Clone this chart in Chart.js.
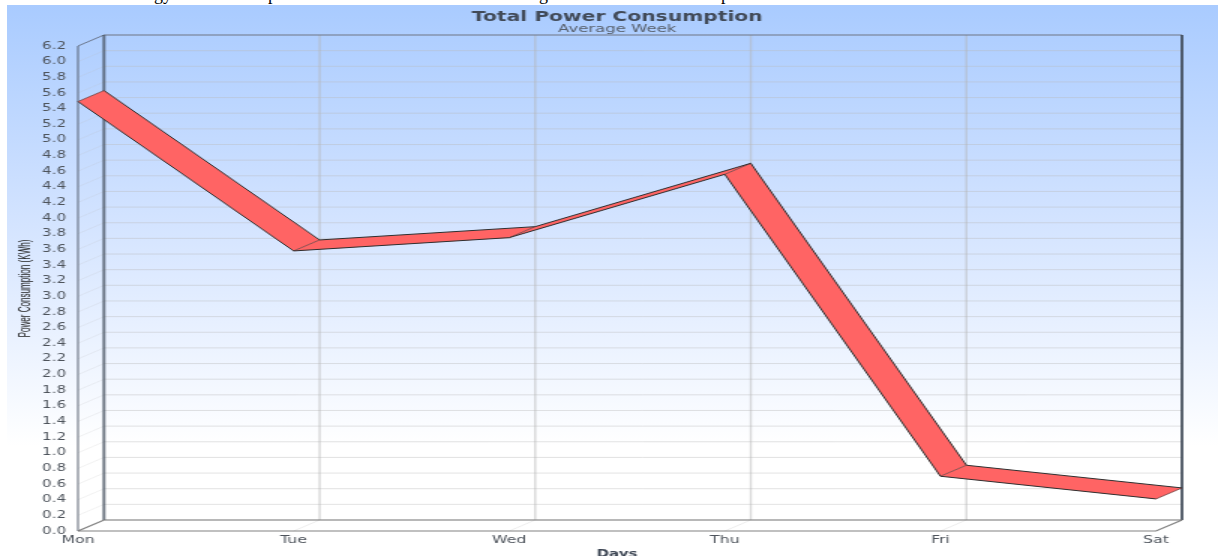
<!DOCTYPE html>
<html>
<head>
<meta charset="utf-8">
<title>Total Power Consumption</title>
<script src="https://cdn.jsdelivr.net/npm/chart.js@4"></script>
<style>
    html, body { margin: 0; padding: 0; background: #fff; overflow: hidden; }
    #page { position: relative; width: 1218px; height: 556px; overflow: hidden; }
    #backdrop { position: absolute; left: 7px; top: 5px; right: 0; height: 441px; background: linear-gradient(#a9cbff, #d4e4ff 50%, #fff); }
    #clipped span { position: absolute; top: -16px; font: 18px "Liberation Serif", serif; color: #000; }
    #clipped { position: absolute; left: 0; top: 0; width: 1218px; height: 5px; overflow: hidden; }
    /* the reference is a soft picture stretched sideways, so the canvas is too */
    #chart { position: absolute; left: 0; top: 0; transform-origin: 0 0; transform: scale(1.5, 1); filter: blur(0.4px); }
</style>
</head>
<body>
<div id="page">
    <div id="backdrop"></div>
    <div id="clipped">
        <span style="left:154px">gy</span>
        <span style="left:268px">p</span>
        <span style="left:539px">g</span>
        <span style="left:721px">p</span>
    </div>
    <canvas id="chart" width="812" height="556"></canvas>
</div>
<script>
const days = ['Mon', 'Tue', 'Wed', 'Thu', 'Fri', 'Sat'];
const powerValues = [5.49, 3.58, 3.75, 4.56, 0.70, 0.41];
const yTickStep = 0.2;
const yTop = 6.2;

// Depth of the fake 3D box, in axis units
const DEPTH_X = 0.1205;
const DEPTH_Y = 0.1406;
const LAST_DAY = days.length - 1;

const TICK_COLOR = '#4e545c';

const points = powerValues.map((v, i) => ({ x: i, y: v }));

function line(ctx, coords, color, width) {
    ctx.beginPath();
    coords.forEach(([x, y], i) => (i ? ctx.lineTo(x, y) : ctx.moveTo(x, y)));
    ctx.strokeStyle = color;
    ctx.lineWidth = width;
    ctx.stroke();
}

/**
 * Back wall, side wall, floor and the ribbon between the two lines
 */
const box3d = {
    id: 'box3d',
    beforeDatasetsDraw(chart) {
        const { ctx, scales } = chart;
        const fx = v => scales.xFront.getPixelForValue(v);
        const fy = v => scales.yFront.getPixelForValue(v);
        const bx = v => scales.xBack.getPixelForValue(v);
        const by = v => scales.yBack.getPixelForValue(v);

        ctx.save();

        scales.yFront.ticks.forEach(t => {
            line(ctx, [[fx(0), fy(t.value)], [bx(0), by(t.value)]], 'rgba(190,190,190,0.3)', 0.7);
            line(ctx, [[bx(0), by(t.value)], [bx(LAST_DAY), by(t.value)]], 'rgba(185,185,185,0.42)', 1);
        });

        scales.xFront.ticks.forEach(t => {
            if (t.value === 0 || t.value === LAST_DAY) return;
            line(ctx, [[fx(t.value), fy(0)], [bx(t.value), by(0)]], 'rgba(190,190,190,0.4)', 0.7);
            line(ctx, [[bx(t.value), by(0)], [bx(t.value), by(yTop)]], 'rgba(180,180,180,0.5)', 1.4);
        });

        // box frame
        line(ctx, [[fx(0), fy(yTop)], [bx(0), by(yTop)], [bx(LAST_DAY), by(yTop)]], 'rgba(90,100,120,0.8)', 1);
        line(ctx, [[fx(0), fy(0)], [fx(0), fy(yTop)]], 'rgba(80,90,105,0.7)', 1.3);
        line(ctx, [[bx(0), by(0)], [bx(0), by(yTop)]], 'rgba(70,80,95,0.75)', 2);
        line(ctx, [[bx(LAST_DAY), by(0)], [bx(LAST_DAY), by(yTop)]], 'rgba(60,70,85,0.85)', 2);
        line(ctx, [[fx(0), fy(0)], [bx(0), by(0)], [bx(LAST_DAY), by(0)]], 'rgba(115,115,115,0.9)', 1.2);
        line(ctx, [[fx(0), fy(0)], [fx(LAST_DAY), fy(0)], [bx(LAST_DAY), by(0)]], 'rgba(115,115,115,0.9)', 1.2);

        // ribbon
        const front = chart.getDatasetMeta(0).data;
        const back = chart.getDatasetMeta(1).data;
        for (let i = 0; i < LAST_DAY; i++) {
            ctx.beginPath();
            ctx.moveTo(front[i].x, front[i].y);
            ctx.lineTo(front[i + 1].x, front[i + 1].y);
            ctx.lineTo(back[i + 1].x, back[i + 1].y);
            ctx.lineTo(back[i].x, back[i].y);
            ctx.closePath();
            ctx.fillStyle = '#ff6464';
            ctx.fill();
        }
        front.forEach((p, i) => line(ctx, [[p.x, p.y], [back[i].x, back[i].y]], '#5a3a3a', 0.7));

        ctx.restore();
    },
    afterDraw(chart) {
        const { ctx, scales } = chart;
        const midX = (scales.xFront.getPixelForValue(0) + scales.xFront.getPixelForValue(LAST_DAY)) / 2;
        const midY = (scales.yFront.getPixelForValue(0) + scales.yFront.getPixelForValue(yTop)) / 2;

        ctx.save();
        ctx.textAlign = 'center';
        ctx.textBaseline = 'alphabetic';

        ctx.font = 'bold 10px "DejaVu Sans"';
        ctx.fillStyle = '#3d4654';
        ctx.fillText('Days', midX, 557);

        ctx.translate(17, midY);
        ctx.rotate(-Math.PI / 2);
        ctx.textBaseline = 'middle';
        ctx.font = '10px "Liberation Sans Narrow", "Liberation Sans"';
        ctx.fillStyle = '#222';
        ctx.fillText('Power Consumption (KWh)', 0, 0, 98);
        ctx.restore();
    }
};

new Chart(document.getElementById('chart'), {
    type: 'line',
    data: {
        datasets: [
            { label: 'Front', data: points, xAxisID: 'xFront', yAxisID: 'yFront' },
            { label: 'Back', data: points, xAxisID: 'xBack', yAxisID: 'yBack' }
        ]
    },
    options: {
        responsive: false,
        devicePixelRatio: 1,
        animation: false,
        layout: { padding: { left: 26, right: 15 } },
        elements: {
            line: { borderColor: '#2e2e2e', borderWidth: 1, tension: 0, fill: false },
            point: { radius: 0 }
        },
        datasets: { line: { clip: false } },
        plugins: {
            legend: { display: false },
            tooltip: { enabled: false },
            title: {
                display: true,
                text: 'Total Power Consumption',
                color: '#414a58',
                font: { family: 'DejaVu Sans', size: 13.5, weight: 'bold', lineHeight: '14px' },
                padding: { top: 10, bottom: 0 }
            },
            subtitle: {
                display: true,
                text: 'Average Week',
                color: '#58606c',
                font: { family: 'DejaVu Sans', size: 11, lineHeight: '11px' },
                padding: 0
            }
        },
        scales: {
            xFront: {
                type: 'linear',
                axis: 'x',
                position: 'bottom',
                min: 0,
                max: LAST_DAY + DEPTH_X,
                afterFit(scale) { scale.height = 25; },
                grid: { display: false, drawTicks: false },
                border: { display: false },
                ticks: {
                    stepSize: 1,
                    includeBounds: false,
                    autoSkip: false,
                    maxRotation: 0,
                    padding: 3,
                    color: TICK_COLOR,
                    font: { family: 'DejaVu Sans', size: 10.5 },
                    callback: value => days[value]
                }
            },
            yFront: {
                type: 'linear',
                axis: 'y',
                position: 'left',
                min: 0,
                max: yTop + DEPTH_Y,
                afterFit(scale) { scale.width = 26; },
                grid: { display: false, drawTicks: false },
                border: { display: false },
                ticks: {
                    stepSize: yTickStep,
                    includeBounds: false,
                    autoSkip: false,
                    padding: 8,
                    color: TICK_COLOR,
                    font: { family: 'DejaVu Sans', size: 10 },
                    callback: value => value.toFixed(1)
                }
            },
            xBack: { type: 'linear', axis: 'x', display: false, min: -DEPTH_X, max: LAST_DAY },
            // no visible ticks: its 9px box only keeps the titles centred on the front plane
            yBack: {
                type: 'linear',
                axis: 'y',
                position: 'right',
                min: -DEPTH_Y,
                max: yTop,
                afterFit(scale) { scale.width = 9; },
                grid: { display: false, drawTicks: false },
                border: { display: false },
                ticks: { display: false }
            }
        }
    },
    plugins: [box3d]
});
</script>
</body>
</html>
